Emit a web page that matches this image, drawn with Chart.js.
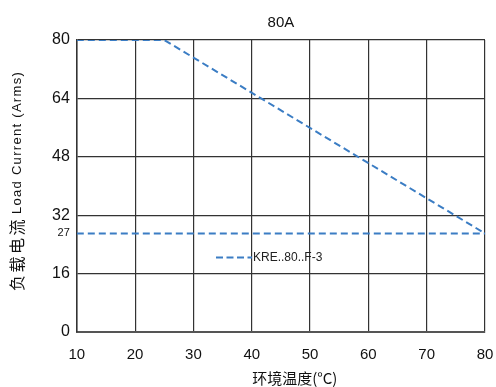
<!DOCTYPE html>
<html>
<head>
<meta charset="utf-8">
<script src="https://cdn.jsdelivr.net/npm/chart.js@4"></script>
<style>
  html, body { margin: 0; padding: 0; background: #fff; }
  #wrap { width: 496px; height: 387px; }
</style>
</head>
<body>
<div id="wrap"><canvas id="derateChart" width="496" height="387"></canvas></div>
<script>
// Derating curve (temperature -> load current)
const curveTemps = [10, 25, 80];
const curveCurrent = [80, 80, 27];

// Horizontal reference level
const refTemps = [10, 80];
const refCurrent = [27, 27];

const yTickValues = [0, 16, 32, 48, 64, 80];
const extraTick = 27;
const seriesLabel = 'KRE..80..F-3';
const xTitle = '环境温度(°C)';
const yTitleCn = '负载电流';
const yTitleEn = 'Load Current(Arms)';

const lineColor = '#3b7dc4';
const gridColor = '#333';
const dash = [7, 4];

function toPoints(xs, ys) {
    return xs.map((x, i) => ({ x: x, y: ys[i] }));
}

// Legend entry inside the plot + the two axis titles (need letter spacing / offset)
const extras = {
    id: 'extras',
    afterDraw(chart) {
        const ctx = chart.ctx;
        const area = chart.chartArea;
        const w = area.right - area.left;
        const h = area.bottom - area.top;

        // legend
        const x0 = area.left + w * 0.341;
        const y0 = area.top + h * 0.745;
        ctx.save();
        ctx.strokeStyle = lineColor;
        ctx.lineWidth = 2;
        ctx.setLineDash([7, 3.5]);
        ctx.beginPath();
        ctx.moveTo(x0, y0);
        ctx.lineTo(x0 + 36, y0);
        ctx.stroke();
        ctx.setLineDash([]);
        ctx.fillStyle = '#222';
        ctx.font = '12px "Liberation Sans Narrow", "Liberation Sans", Arial, sans-serif';
        ctx.textBaseline = 'middle';
        ctx.fillText(seriesLabel, x0 + 37, y0);
        ctx.restore();

        // x title
        ctx.save();
        ctx.fillStyle = '#111';
        ctx.font = '15px "Noto Sans CJK SC", sans-serif';
        ctx.textAlign = 'center';
        ctx.textBaseline = 'middle';
        ctx.fillText(xTitle, area.left + w * 0.534, area.bottom + 46);
        ctx.restore();

        // y title, rotated, drawn bottom to top
        ctx.save();
        ctx.translate(17, area.top + h * 0.86);
        ctx.rotate(-Math.PI / 2);
        ctx.fillStyle = '#111';
        ctx.textBaseline = 'middle';
        ctx.font = '16px "Noto Sans CJK SC", sans-serif';
        ctx.letterSpacing = '2.5px';
        ctx.fillText(yTitleCn, 0, 0);
        let off = ctx.measureText(yTitleCn).width + 3;
        ctx.font = '13px "Liberation Sans Narrow", "Liberation Sans", sans-serif';
        ctx.letterSpacing = '1.3px';
        ctx.fillText(yTitleEn.replace('(', ' ('), off, 0);
        ctx.restore();
    }
};

const ctx = document.getElementById('derateChart').getContext('2d');

new Chart(ctx, {
    type: 'line',
    data: {
        datasets: [{
            label: seriesLabel,
            data: toPoints(curveTemps, curveCurrent),
            borderColor: lineColor,
            borderWidth: 2,
            borderDash: dash,
            pointRadius: 0,
            tension: 0
        }, {
            label: 'ref',
            data: toPoints(refTemps, refCurrent),
            borderColor: lineColor,
            borderWidth: 2,
            borderDash: dash,
            pointRadius: 0,
            tension: 0
        }]
    },
    options: {
        responsive: false,
        animation: false,
        layout: { padding: { left: 45, right: 11, top: 5, bottom: 9 } },
        plugins: {
            legend: { display: false },
            tooltip: { enabled: false },
            title: {
                display: true,
                text: '80A',
                fullSize: false,
                color: '#111',
                font: { family: '"Liberation Sans", Arial, sans-serif', size: 15, weight: 'normal' },
                padding: { top: 9, bottom: 8 }
            }
        },
        scales: {
            x: {
                type: 'linear',
                min: 10,
                max: 80,
                afterFit(scale) {
                    // let the last tick label hang into the right margin
                    scale.paddingRight = 0;
                },
                ticks: {
                    stepSize: 10,
                    color: '#111',
                    padding: 14,
                    font: { family: '"Liberation Sans", Arial, sans-serif', size: 15 }
                },
                grid: { color: gridColor, lineWidth: 1.2, drawTicks: false },
                border: { color: '#555', width: 2 }
            },
            y: {
                type: 'linear',
                min: 0,
                max: 80,
                afterBuildTicks(axis) {
                    const vals = yTickValues.concat([extraTick]).sort((a, b) => a - b);
                    axis.ticks = vals.map(v => ({ value: v }));
                },
                ticks: {
                    color: '#111',
                    padding: 7,
                    font: (c) => ({
                        family: '"Liberation Sans", Arial, sans-serif',
                        size: c.tick && c.tick.value === extraTick ? 11 : 16
                    })
                },
                grid: {
                    color: (c) => (c.tick && c.tick.value === extraTick ? 'rgba(0,0,0,0)' : gridColor),
                    lineWidth: 1.2,
                    drawTicks: false
                },
                border: { color: '#333', width: 1.5 }
            }
        }
    },
    plugins: [extras]
});
</script>
</body>
</html>
